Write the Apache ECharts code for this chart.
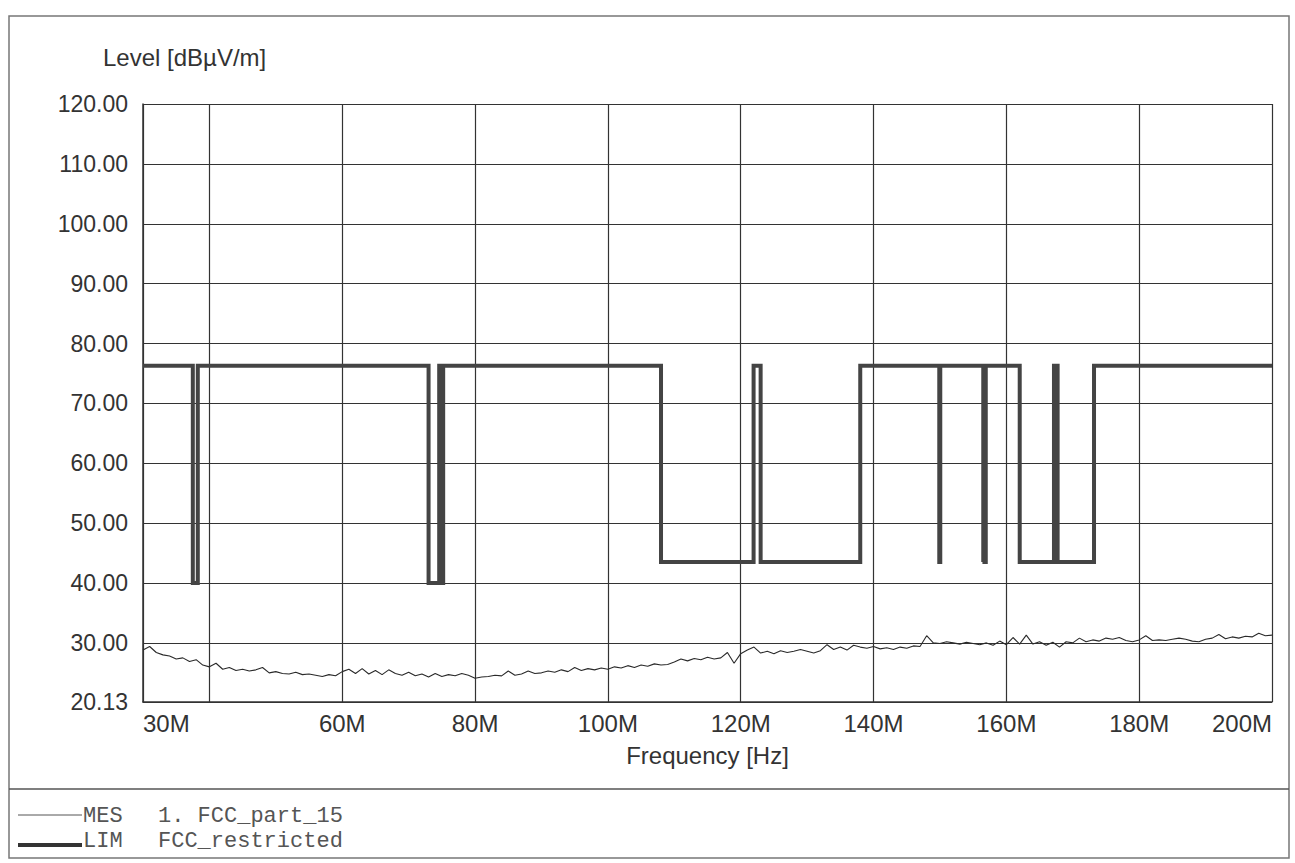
<!DOCTYPE html>
<html><head><meta charset="utf-8">
<script src="https://cdn.jsdelivr.net/npm/echarts@6/dist/echarts.min.js"></script>
<style>html,body{margin:0;padding:0;background:#fff}#c{width:1295px;height:863px}</style>
</head><body><div id="c"></div>
<script>
// Measurement trace (MES 1. FCC_part_15), frequency in MHz, level in dBµV/m
const mesFreq = [30,31,32,33,34,35,36,37,38,39,40,41,42,43,44,45,46,47,48,49,50,51,52,53,54,55,56,57,58,59,
60,61,62,63,64,65,66,67,68,69,70,71,72,73,74,75,76,77,78,79,80,81,82,83,84,85,86,87,88,89,
90,91,92,93,94,95,96,97,98,99,100,101,102,103,104,105,106,107,108,109,110,111,112,113,114,115,116,117,118,119,
120,121,122,123,124,125,126,127,128,129,130,131,132,133,134,135,136,137,138,139,140,141,142,143,144,145,146,147,148,149,
150,151,152,153,154,155,156,157,158,159,160,161,162,163,164,165,166,167,168,169,170,171,172,173,174,175,176,177,178,179,
180,181,182,183,184,185,186,187,188,189,190,191,192,193,194,195,196,197,198,199,200];
const mesLevel = [28.8,29.4,28.4,28.0,27.8,27.3,27.5,26.9,27.2,26.3,26.0,26.6,25.6,25.9,25.4,25.6,25.3,25.5,25.9,25.0,
25.2,24.9,24.8,25.1,24.7,24.8,24.6,24.4,24.7,24.5,25.2,25.6,24.9,25.7,24.8,25.4,24.7,25.5,24.9,24.6,
25.1,24.5,24.8,24.3,24.9,24.4,24.7,24.5,24.9,24.6,24.1,24.3,24.4,24.6,24.5,25.3,24.6,24.8,25.3,24.9,
25.0,25.3,25.1,25.5,25.2,25.9,25.4,25.7,25.5,25.8,25.6,26.0,25.8,26.2,25.9,26.3,26.1,26.5,26.3,26.4,
26.8,27.3,27.0,27.4,27.2,27.6,27.3,27.5,28.4,26.6,28.2,28.8,29.3,28.3,28.6,28.2,28.7,28.4,28.6,28.9,
28.6,28.3,28.7,29.7,28.9,29.3,28.8,29.6,29.3,29.1,29.4,29.0,29.2,28.9,29.3,29.1,29.5,29.4,31.2,30.0,
29.9,30.2,30.0,29.8,30.1,29.9,29.7,30.0,29.6,30.3,29.7,30.9,29.8,31.3,29.8,30.2,29.6,30.1,29.3,30.2,
30.0,30.8,30.2,30.5,30.3,30.8,30.6,30.9,30.4,30.2,30.5,31.2,30.4,30.5,30.4,30.6,30.8,30.6,30.3,30.2,
30.6,30.8,31.4,30.7,31.0,30.8,31.1,31.0,31.6,31.2,31.3];
// Limit line (LIM FCC_restricted)
const limFreq = [30,37.5,37.5,38.25,38.25,73,73,74.6,74.6,74.8,74.8,75.2,75.2,108,108,121.94,121.94,123,123,138,138,
149.9,149.9,150.05,150.05,156.52475,156.52475,156.52525,156.52525,156.7,156.7,156.9,156.9,
162.0125,162.0125,167.17,167.17,167.72,167.72,173.2,173.2,200];
const limLevel = [76.3,76.3,40,40,76.3,76.3,40,40,76.3,76.3,40,40,76.3,76.3,43.5,43.5,76.3,76.3,43.5,43.5,76.3,
76.3,43.5,43.5,76.3,76.3,43.5,43.5,76.3,76.3,43.5,43.5,76.3,
76.3,43.5,43.5,76.3,76.3,43.5,43.5,76.3,76.3];
const xLabelValues = [30,60,80,100,120,140,160,180,200];
const yAxisTitle = 'Level [dBµV/m]';
const xAxisTitle = 'Frequency [Hz]';
const legendRows = [['MES', '1. FCC_part_15'], ['LIM', 'FCC_restricted']];

const chart = echarts.init(document.getElementById('c'), null, {renderer: 'svg'});
const sans = "'Liberation Sans', Arial, sans-serif";
const mono = "'Courier New', 'Liberation Mono', monospace";
const ink = '#333';
chart.setOption({
  backgroundColor: '#fff',
  animation: false,
  grid: {left: 143, right: 23, top: 104, bottom: 161},
  xAxis: {
    type: 'value', min: 30, max: 200, splitNumber: 8,
    name: xAxisTitle, nameLocation: 'middle', nameGap: 41,
    nameTextStyle: {fontFamily: sans, fontSize: 24, color: ink},
    axisLine: {show: true, lineStyle: {color: ink, width: 1.5}},
    axisTick: {show: false},
    axisLabel: {
      fontFamily: sans, fontSize: 24, color: ink, margin: 9,
      alignMinLabel: 'left', alignMaxLabel: 'right',
      formatter: v => xLabelValues.includes(Math.round(v)) ? Math.round(v) + 'M' : ''
    },
    splitLine: {show: true, lineStyle: {color: ink, width: 1.2}}
  },
  yAxis: {
    type: 'value', min: 20.13, max: 120, splitNumber: 10,
    axisLine: {show: true, lineStyle: {color: ink, width: 1.5}},
    axisTick: {show: false},
    axisLabel: {fontFamily: sans, fontSize: 23, color: ink, margin: 15,
      formatter: v => v.toFixed(2)},
    splitLine: {show: true, lineStyle: {color: ink, width: 1.2}}
  },
  series: [
    {name: 'MES', type: 'line', data: mesFreq.map((f, i) => [f, mesLevel[i]]),
     showSymbol: false, lineStyle: {color: '#2a2a2a', width: 1.1}, z: 3},
    {name: 'LIM', type: 'line', data: limFreq.map((f, i) => [f, limLevel[i]]),
     showSymbol: false, lineStyle: {color: '#444', width: 4, join: 'miter'}, z: 4}
  ],
  graphic: [
    {type: 'rect', shape: {x: 9, y: 16, width: 1280, height: 842}, style: {fill: 'none', stroke: '#777', lineWidth: 1.5}, silent: true},
    {type: 'line', shape: {x1: 9, y1: 789, x2: 1289, y2: 789}, style: {stroke: '#555', lineWidth: 1.5}, silent: true},
    {type: 'text', left: 103, top: 45, style: {text: yAxisTitle, font: '24px ' + sans, fill: ink}},
    {type: 'line', shape: {x1: 18, y1: 815, x2: 82, y2: 815}, style: {stroke: '#555', lineWidth: 1}},
    {type: 'line', shape: {x1: 18, y1: 845, x2: 82, y2: 845}, style: {stroke: '#333', lineWidth: 4}},
    {type: 'text', left: 83, top: 805, style: {text: legendRows[0][0], font: '22px ' + mono, fill: '#555'}},
    {type: 'text', left: 158, top: 805, style: {text: legendRows[0][1], font: '22px ' + mono, fill: '#555'}},
    {type: 'text', left: 83, top: 830, style: {text: legendRows[1][0], font: '22px ' + mono, fill: '#555'}},
    {type: 'text', left: 158, top: 830, style: {text: legendRows[1][1], font: '22px ' + mono, fill: '#555'}}
  ]
});
</script>
</body></html>
